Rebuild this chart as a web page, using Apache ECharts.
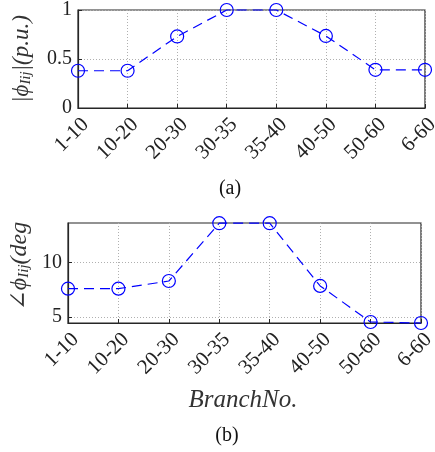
<!DOCTYPE html>
<html><head><meta charset="utf-8">
<script src="https://cdn.jsdelivr.net/npm/echarts@6/dist/echarts.min.js"></script>
<style>html,body{margin:0;padding:0;background:#fff}#c{width:435px;height:452px}</style>
</head><body><div id="c"></div>
<script>
const categories = ['1-10','10-20','20-30','30-35','35-40','40-50','50-60','6-60'];
const magnitude = [0.38,0.38,0.73,1,1,0.735,0.39,0.39];
const angle = [7.6,7.6,8.3,13.6,13.6,7.85,4.54,4.45];
const magTicks = [0, 0.5, 1];
const angTicks = [5, 10];

const serif = '"Liberation Serif", "DejaVu Serif", serif';
const axisCol = '#262626';
const gridLine = {show:true, lineStyle:{color:'#b0b0b0', type:[1,2], width:1}};
function xAx(gi){
  return {type:'category', gridIndex:gi, data:categories, boundaryGap:false,
    axisLine:{show:true,lineStyle:{color:axisCol,width:1.2}},
    axisTick:{show:true,inside:true,length:4,alignWithLabel:true,lineStyle:{color:axisCol}},
    axisLabel:{rotate:45,fontFamily:serif,fontSize:21,color:'#222',margin:6,align:'right',verticalAlign:'top',hideOverlap:false},
    splitLine:gridLine};
}
const chart = echarts.init(document.getElementById('c'), null, {renderer:'canvas'});
const lineSeries = (xi, data) => ({type:'line', xAxisIndex:xi, yAxisIndex:xi, data,
  symbol:'circle', symbolSize:13, clip:false, showSymbol:true,
  itemStyle:{color:'rgba(0,0,0,0)', borderColor:'#0000ff', borderWidth:1.2},
  lineStyle:{color:'#0000ff', width:1.2, type:[10,6]}, animation:false});
chart.setOption({
  animation:false,
  grid:[
    {left:78, right:10, top:10, height:98, show:true, borderColor:axisCol, borderWidth:1.2, containLabel:false, outerBoundsMode:'none'},
    {left:68, right:14, top:223, height:100, show:true, borderColor:axisCol, borderWidth:1.2, containLabel:false, outerBoundsMode:'none'}
  ],
  xAxis:[xAx(0), xAx(1)],
  yAxis:[
    {type:'value', gridIndex:0, min:0, max:1, interval:0.5,
     axisLine:{show:true,lineStyle:{color:axisCol,width:1.2}},
     axisTick:{show:true,inside:true,length:4,customValues:magTicks,lineStyle:{color:axisCol}},
     axisLabel:{fontFamily:serif,fontSize:20,color:'#222',margin:6,customValues:magTicks},
     splitLine:gridLine},
    {type:'value', gridIndex:1, min:4.45, max:13.62,
     axisLine:{show:true,lineStyle:{color:axisCol,width:1.2}},
     axisTick:{show:true,inside:true,length:4,customValues:angTicks,lineStyle:{color:axisCol}},
     axisLabel:{fontFamily:serif,fontSize:20,color:'#222',margin:6,customValues:angTicks},
     splitLine:gridLine}
  ],
  series:[lineSeries(0, magnitude), lineSeries(1, angle)],
  graphic:[
    {type:'text', x:22, y:59, rotation:Math.PI/2,
     style:{text:'|ϕ{s|Iij}|(p.u.)', fontFamily:serif, fontStyle:'italic', fontSize:23, fill:'#333',
       align:'center', verticalAlign:'middle',
       rich:{s:{fontFamily:serif, fontStyle:'italic', fontSize:15, fill:'#333', padding:[9,0,0,0]}}}},
    {type:'text', x:20, y:266, rotation:Math.PI/2,
     style:{text:'∠ϕ{s|Iij}(deg', fontFamily:serif, fontStyle:'italic', fontSize:24, fill:'#333',
       align:'center', verticalAlign:'middle',
       rich:{s:{fontFamily:serif, fontStyle:'italic', fontSize:15, fill:'#333', padding:[9,0,0,0]}}}},
    {type:'text', x:243, y:400,
     style:{text:'BranchNo.', fontFamily:serif, fontStyle:'italic', fontSize:25, fill:'#333', align:'center', verticalAlign:'middle'}},
    {type:'text', x:230, y:189,
     style:{text:'(a)', fontFamily:serif, fontSize:20, fill:'#111', align:'center', verticalAlign:'middle'}},
    {type:'text', x:227, y:436,
     style:{text:'(b)', fontFamily:serif, fontSize:20, fill:'#111', align:'center', verticalAlign:'middle'}}
  ]
});
</script></body></html>
